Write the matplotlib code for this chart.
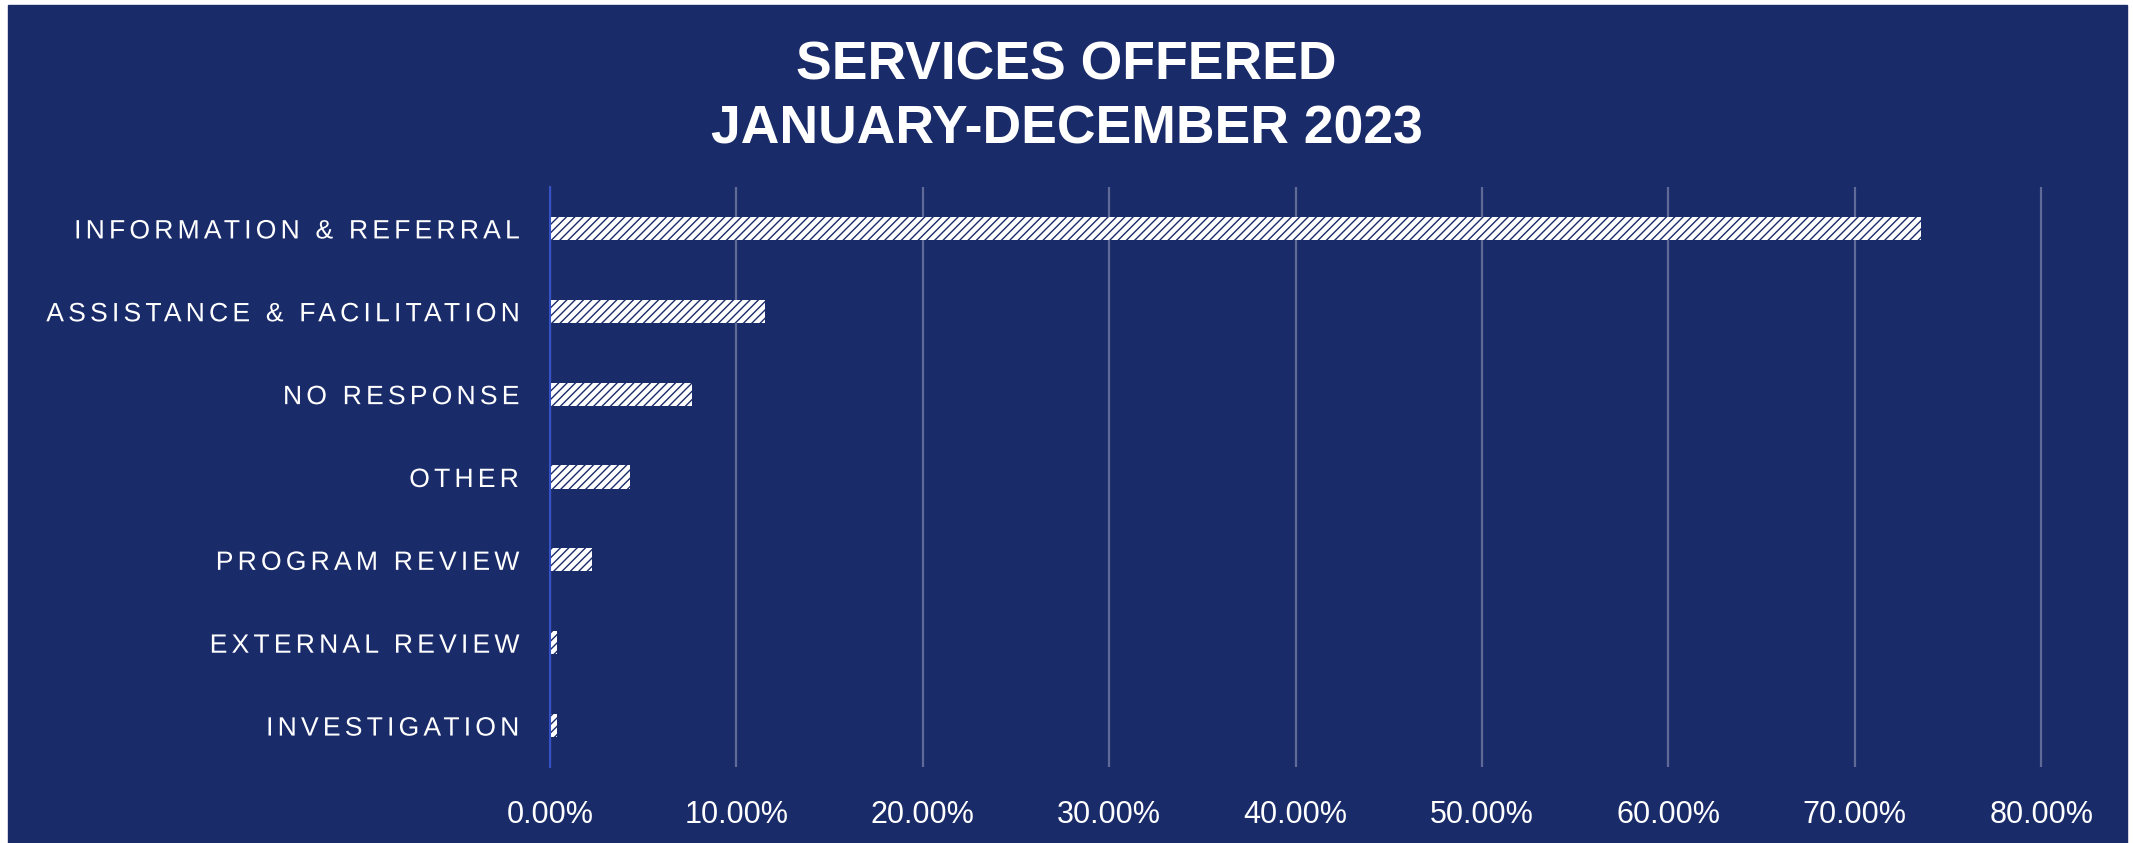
"""
Horizontal bar chart of services offered, January-December 2023.
"""

import matplotlib
matplotlib.use('Agg')
import matplotlib.pyplot as plt
import numpy as np
from matplotlib.font_manager import findfont, get_font
from matplotlib.patches import Rectangle
from matplotlib.path import Path
from matplotlib.patheffects import AbstractPathEffect
from matplotlib.textpath import text_to_path
from matplotlib.ticker import PercentFormatter

plt.rcParams['font.family'] = ['Liberation Sans', 'DejaVu Sans']

# Share of services (percent), top to bottom
categories = [
    'INFORMATION & REFERRAL',
    'ASSISTANCE & FACILITATION',
    'NO RESPONSE',
    'OTHER',
    'PROGRAM REVIEW',
    'EXTERNAL REVIEW',
    'INVESTIGATION',
]
shares = [73.55, 11.55, 7.63, 4.28, 2.25, 0.35, 0.35]
x_ticks = [0, 10, 20, 30, 40, 50, 60, 70, 80]

title = 'SERVICES OFFERED\nJANUARY-DECEMBER 2023'

NAVY = '#1A2B69'
W, H = 2133, 843


class LetterSpacing(AbstractPathEffect):
    """Spread the glyphs of a right-aligned label apart (spacing in em)."""

    def __init__(self, text, prop, spacing):
        super().__init__()
        self._text = text
        self._prop = prop
        self._spacing = spacing * text_to_path.FONT_SCALE

    def draw_path(self, renderer, gc, tpath, affine, rgbFace=None):
        font = get_font(findfont(self._prop))
        font.set_size(text_to_path.FONT_SCALE, text_to_path.DPI)
        glyphs = text_to_path.get_glyphs_with_font(font, self._text)[0]
        starts = np.array([g[1] for g in glyphs])
        verts = tpath.vertices.copy()
        codes = tpath.codes
        cuts = list(np.flatnonzero(codes == Path.MOVETO)) + [len(codes)]
        last = len(starts) - 1
        for a, b in zip(cuts[:-1], cuts[1:]):
            mid = 0.5 * (verts[a:b, 0].min() + verts[a:b, 0].max())
            k = np.searchsorted(starts, mid, side='right') - 1
            verts[a:b, 0] += (k - last) * self._spacing
        renderer.draw_path(gc, Path(verts, codes), affine, rgbFace)


def main():
    fig = plt.figure(figsize=(W / 100, H / 100), dpi=100, facecolor='white')
    # navy panel with a thin white margin on the left, top and right
    fig.patches.append(Rectangle((8 / W, 0), (2127 - 8) / W, (H - 5) / H,
                                 transform=fig.transFigure, color=NAVY,
                                 zorder=-1))

    ax = fig.add_axes([550 / W, (H - 767) / H, (2043 - 550) / W, 580 / H])
    ax.set_facecolor('none')

    ypos = np.arange(len(categories))
    ax.barh(ypos, shares, height=0.28, color='white', edgecolor=NAVY,
            linewidth=0, hatch='////', zorder=2)

    ax.set_xlim(0, 80.1)
    ax.set_ylim(len(categories) - 0.5, -0.5)
    ax.set_xticks(x_ticks)
    ax.xaxis.set_major_formatter(PercentFormatter(100, decimals=2))
    ax.set_yticks(ypos, categories)

    ax.grid(axis='x', color='white', alpha=0.3, linewidth=1.6)
    ax.set_axisbelow(True)
    for side in ('top', 'right', 'bottom'):
        ax.spines[side].set_visible(False)
    ax.spines['left'].set_color('#3451C6')
    ax.spines['left'].set_linewidth(1.5)

    ax.tick_params(axis='x', length=0, pad=24, labelsize=22,
                   labelcolor='white')
    ax.tick_params(axis='y', length=0, pad=22.5, labelsize=19.1,
                   labelcolor='white')
    for label in ax.get_yticklabels():
        label.set_path_effects([
            LetterSpacing(label.get_text(), label.get_fontproperties(), 0.158)
        ])

    fig.text(0.5, 1 - 40 / H, title, ha='center', va='top', color='white',
             fontsize=38.5, fontweight='bold', linespacing=1.36)

    fig.savefig('out.png', dpi=100, facecolor='white')


if __name__ == '__main__':
    main()
